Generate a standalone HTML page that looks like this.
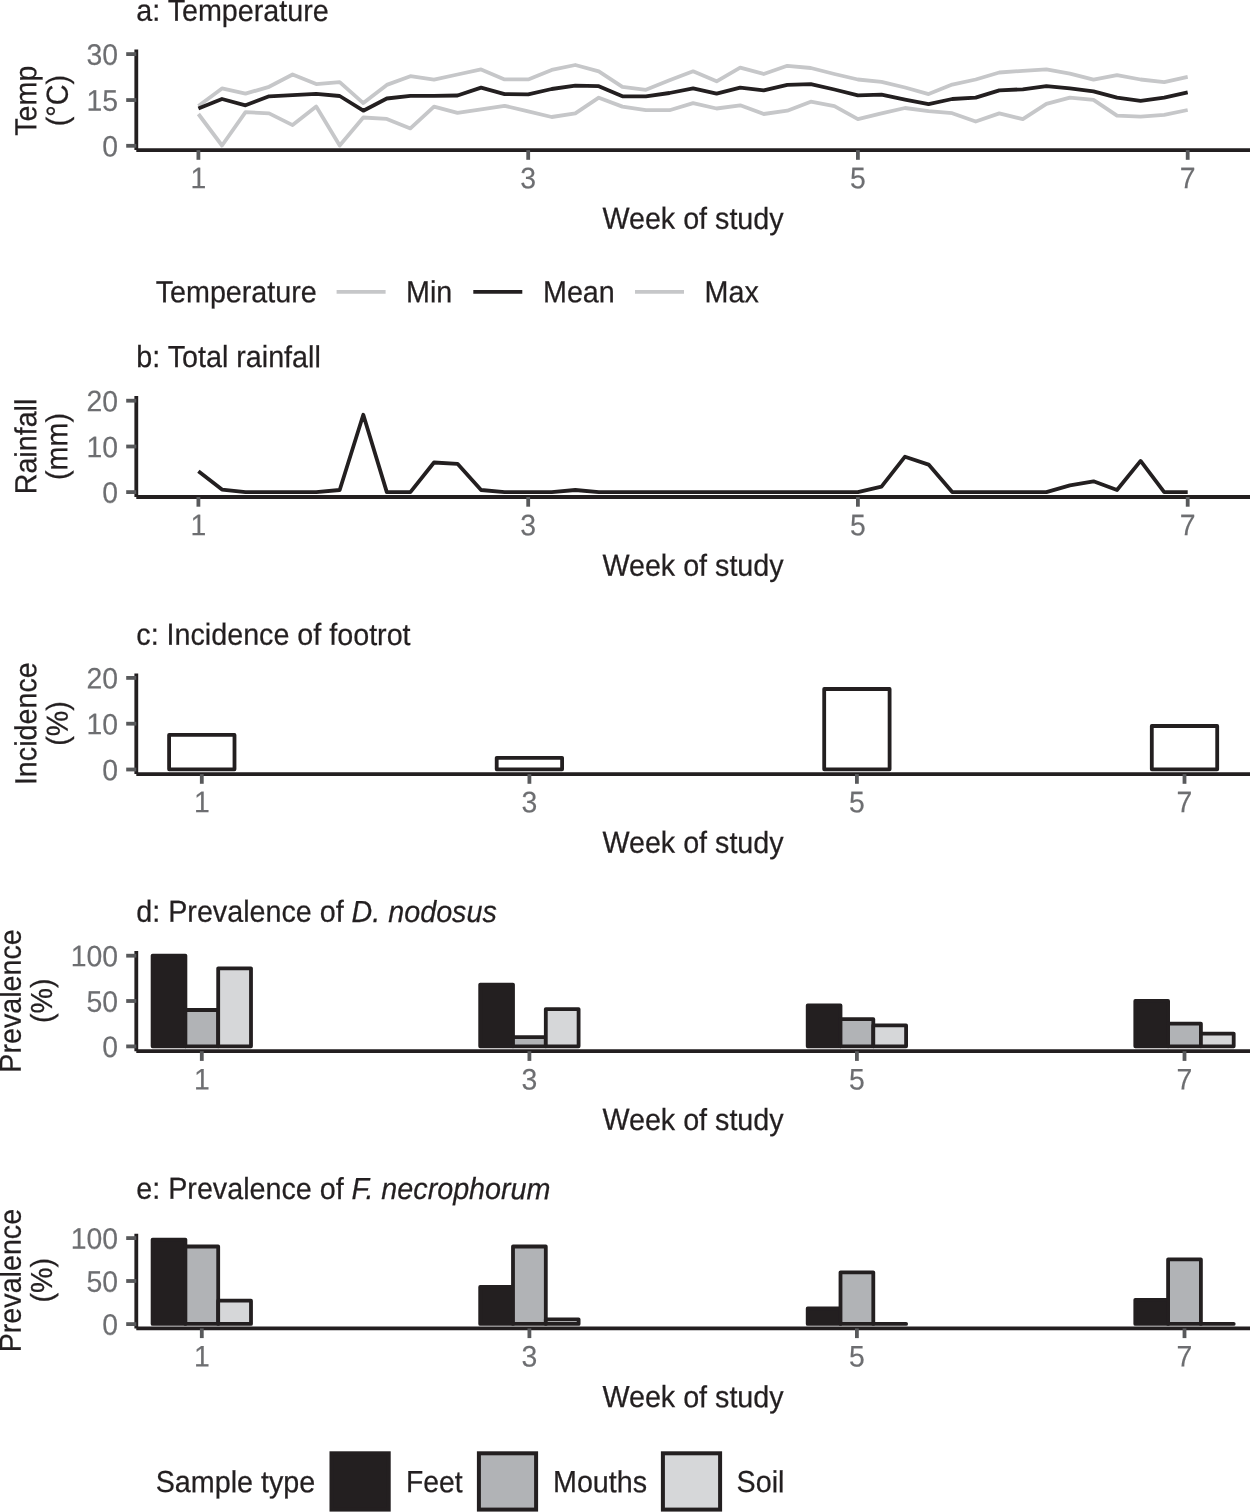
<!DOCTYPE html>
<html lang="en"><head><meta charset="utf-8"><title>Figure</title>
<style>
html,body{margin:0;padding:0;background:#fff;}
body{width:1250px;height:1512px;overflow:hidden;}
svg{display:block;font-family:"Liberation Sans", sans-serif;will-change:transform;text-rendering:geometricPrecision;}
</style></head><body>
<svg width="1250" height="1512" viewBox="0 0 1250 1512">
<rect width="1250" height="1512" fill="#fff"/>
<text transform="translate(136.3,20.8) rotate(0.05) scale(0.944,1)" font-size="30.4" fill="#231f20" stroke="#231f20" stroke-width="0.25" text-anchor="start" >a: Temperature</text>
<polyline points="198.4,114.0 222.0,145.5 245.5,112.1 269.1,113.4 292.6,125.1 316.2,106.6 339.7,145.5 363.3,117.5 386.8,118.9 410.4,128.4 434.0,106.6 457.5,112.9 481.1,109.4 504.6,105.8 528.2,111.3 551.7,117.0 575.3,113.4 598.8,97.7 622.4,106.6 645.9,110.2 669.5,110.2 693.1,103.1 716.6,108.5 740.2,105.3 763.7,114.0 787.3,110.7 810.8,101.7 834.4,106.1 857.9,119.2 881.5,113.4 905.0,108.0 928.6,111.1 952.2,113.2 975.7,121.5 999.3,113.4 1022.8,119.2 1046.4,103.9 1069.9,97.6 1093.5,99.9 1117.0,115.7 1140.6,116.6 1164.2,114.9 1187.7,110.0" fill="none" stroke="#c6c7c9" stroke-width="3.8" stroke-linejoin="round" stroke-linecap="butt"/>
<polyline points="198.4,106.1 222.0,88.4 245.5,93.6 269.1,86.8 292.6,74.5 316.2,84.1 339.7,82.2 363.3,103.1 386.8,84.9 410.4,76.2 434.0,79.7 457.5,74.5 481.1,69.4 504.6,79.4 528.2,79.4 551.7,69.9 575.3,65.0 598.8,71.3 622.4,86.8 645.9,89.8 669.5,80.3 693.1,71.3 716.6,81.3 740.2,67.7 763.7,74.0 787.3,65.8 810.8,68.0 834.4,74.0 857.9,79.5 881.5,81.8 905.0,87.5 928.6,94.1 952.2,84.6 975.7,79.5 999.3,72.5 1022.8,70.8 1046.4,69.4 1069.9,73.7 1093.5,79.7 1117.0,75.1 1140.6,79.5 1164.2,82.1 1187.7,76.9" fill="none" stroke="#c6c7c9" stroke-width="3.8" stroke-linejoin="round" stroke-linecap="butt"/>
<polyline points="198.4,108.5 222.0,99.0 245.5,105.3 269.1,96.3 292.6,95.2 316.2,93.9 339.7,96.0 363.3,110.7 386.8,98.5 410.4,95.8 434.0,95.8 457.5,95.5 481.1,87.6 504.6,94.1 528.2,94.4 551.7,89.0 575.3,85.7 598.8,86.2 622.4,96.3 645.9,96.3 669.5,93.0 693.1,88.4 716.6,93.6 740.2,87.6 763.7,90.3 787.3,84.9 810.8,84.1 834.4,89.5 857.9,95.3 881.5,94.7 905.0,99.6 928.6,104.2 952.2,99.0 975.7,97.6 999.3,90.4 1022.8,89.3 1046.4,86.1 1069.9,88.4 1093.5,91.3 1117.0,97.6 1140.6,100.8 1164.2,97.6 1187.7,92.4" fill="none" stroke="#231f20" stroke-width="3.8" stroke-linejoin="round" stroke-linecap="butt"/>
<path d="M136.3 49.4 V150.1 M136.3 150.1 H1250" fill="none" stroke="#231f20" stroke-width="3.8" stroke-linecap="butt"/>
<line x1="198.4" x2="198.4" y1="150.1" y2="159.79999999999998" stroke="#58595b" stroke-width="3.8"/>
<text transform="translate(198.4,188.3) rotate(0.05) scale(0.955,1)" font-size="29.7" fill="#6d6e71" stroke="#6d6e71" stroke-width="0.18" text-anchor="middle" >1</text>
<line x1="528.2" x2="528.2" y1="150.1" y2="159.79999999999998" stroke="#58595b" stroke-width="3.8"/>
<text transform="translate(528.2,188.3) rotate(0.05) scale(0.955,1)" font-size="29.7" fill="#6d6e71" stroke="#6d6e71" stroke-width="0.18" text-anchor="middle" >3</text>
<line x1="857.9" x2="857.9" y1="150.1" y2="159.79999999999998" stroke="#58595b" stroke-width="3.8"/>
<text transform="translate(857.9,188.3) rotate(0.05) scale(0.955,1)" font-size="29.7" fill="#6d6e71" stroke="#6d6e71" stroke-width="0.18" text-anchor="middle" >5</text>
<line x1="1187.7" x2="1187.7" y1="150.1" y2="159.79999999999998" stroke="#58595b" stroke-width="3.8"/>
<text transform="translate(1187.7,188.3) rotate(0.05) scale(0.955,1)" font-size="29.7" fill="#6d6e71" stroke="#6d6e71" stroke-width="0.18" text-anchor="middle" >7</text>
<line x1="126.2" x2="136.3" y1="54.1" y2="54.1" stroke="#58595b" stroke-width="3.8"/>
<text transform="translate(118.10000000000001,64.8) rotate(0.05) scale(0.955,1)" font-size="29.7" fill="#6d6e71" stroke="#6d6e71" stroke-width="0.18" text-anchor="end" >30</text>
<line x1="126.2" x2="136.3" y1="100.05" y2="100.05" stroke="#58595b" stroke-width="3.8"/>
<text transform="translate(118.10000000000001,110.75) rotate(0.05) scale(0.955,1)" font-size="29.7" fill="#6d6e71" stroke="#6d6e71" stroke-width="0.18" text-anchor="end" >15</text>
<line x1="126.2" x2="136.3" y1="145.8" y2="145.8" stroke="#58595b" stroke-width="3.8"/>
<text transform="translate(118.10000000000001,156.5) rotate(0.05) scale(0.955,1)" font-size="29.7" fill="#6d6e71" stroke="#6d6e71" stroke-width="0.18" text-anchor="end" >0</text>
<text transform="translate(693,228.85) rotate(0.05) scale(0.944,1)" font-size="30.4" fill="#231f20" stroke="#231f20" stroke-width="0.25" text-anchor="middle" >Week of study</text>
<text transform="translate(36.3,100.7) rotate(-90.05) scale(0.944,1)" font-size="30.4" fill="#231f20" stroke="#231f20" stroke-width="0.25" text-anchor="middle">Temp</text>
<text transform="translate(67.7,100.7) rotate(-90.05) scale(0.944,1)" font-size="30.4" fill="#231f20" stroke="#231f20" stroke-width="0.25" text-anchor="middle">(°C)</text>
<text transform="translate(155.7,302.2) rotate(0.05) scale(0.944,1)" font-size="30.4" fill="#231f20" stroke="#231f20" stroke-width="0.25" text-anchor="start" >Temperature</text>
<line x1="336.6" x2="385.6" y1="291.8" y2="291.8" stroke="#c6c7c9" stroke-width="3.8"/>
<line x1="473.3" x2="522.3" y1="291.8" y2="291.8" stroke="#231f20" stroke-width="3.8"/>
<line x1="635" x2="684" y1="291.8" y2="291.8" stroke="#c6c7c9" stroke-width="3.8"/>
<text transform="translate(406,302.2) rotate(0.05) scale(0.944,1)" font-size="30.4" fill="#231f20" stroke="#231f20" stroke-width="0.25" text-anchor="start" >Min</text>
<text transform="translate(543,302.2) rotate(0.05) scale(0.944,1)" font-size="30.4" fill="#231f20" stroke="#231f20" stroke-width="0.25" text-anchor="start" >Mean</text>
<text transform="translate(704.6,302.2) rotate(0.05) scale(0.944,1)" font-size="30.4" fill="#231f20" stroke="#231f20" stroke-width="0.25" text-anchor="start" >Max</text>
<text transform="translate(136.3,367) rotate(0.05) scale(0.944,1)" font-size="30.4" fill="#231f20" stroke="#231f20" stroke-width="0.25" text-anchor="start" >b: Total rainfall</text>
<polyline points="198.4,471.3 222.0,489.6 245.5,492.1 269.1,492.1 292.6,492.1 316.2,492.1 339.7,490.0 363.3,414.7 386.8,492.1 410.4,492.1 434.0,462.5 457.5,463.8 481.1,490.0 504.6,492.1 528.2,492.1 551.7,492.1 575.3,490.0 598.8,492.1 622.4,492.1 645.9,492.1 669.5,492.1 693.1,492.1 716.6,492.1 740.2,492.1 763.7,492.1 787.3,492.1 810.8,492.1 834.4,492.1 857.9,492.1 881.5,486.7 905.0,456.7 928.6,464.6 952.2,492.1 975.7,492.1 999.3,492.1 1022.8,492.1 1046.4,492.1 1069.9,485.4 1093.5,481.3 1117.0,490.0 1140.6,460.9 1164.2,492.1 1187.7,492.1" fill="none" stroke="#231f20" stroke-width="3.8" stroke-linejoin="round" stroke-linecap="butt"/>
<path d="M136.3 395.9 V497.0 M136.3 497.0 H1250" fill="none" stroke="#231f20" stroke-width="3.8" stroke-linecap="butt"/>
<line x1="198.4" x2="198.4" y1="497.0" y2="506.7" stroke="#58595b" stroke-width="3.8"/>
<text transform="translate(198.4,535.2) rotate(0.05) scale(0.955,1)" font-size="29.7" fill="#6d6e71" stroke="#6d6e71" stroke-width="0.18" text-anchor="middle" >1</text>
<line x1="528.2" x2="528.2" y1="497.0" y2="506.7" stroke="#58595b" stroke-width="3.8"/>
<text transform="translate(528.2,535.2) rotate(0.05) scale(0.955,1)" font-size="29.7" fill="#6d6e71" stroke="#6d6e71" stroke-width="0.18" text-anchor="middle" >3</text>
<line x1="857.9" x2="857.9" y1="497.0" y2="506.7" stroke="#58595b" stroke-width="3.8"/>
<text transform="translate(857.9,535.2) rotate(0.05) scale(0.955,1)" font-size="29.7" fill="#6d6e71" stroke="#6d6e71" stroke-width="0.18" text-anchor="middle" >5</text>
<line x1="1187.7" x2="1187.7" y1="497.0" y2="506.7" stroke="#58595b" stroke-width="3.8"/>
<text transform="translate(1187.7,535.2) rotate(0.05) scale(0.955,1)" font-size="29.7" fill="#6d6e71" stroke="#6d6e71" stroke-width="0.18" text-anchor="middle" >7</text>
<line x1="126.2" x2="136.3" y1="400.7" y2="400.7" stroke="#58595b" stroke-width="3.8"/>
<text transform="translate(118.10000000000001,411.4) rotate(0.05) scale(0.955,1)" font-size="29.7" fill="#6d6e71" stroke="#6d6e71" stroke-width="0.18" text-anchor="end" >20</text>
<line x1="126.2" x2="136.3" y1="446.5" y2="446.5" stroke="#58595b" stroke-width="3.8"/>
<text transform="translate(118.10000000000001,457.2) rotate(0.05) scale(0.955,1)" font-size="29.7" fill="#6d6e71" stroke="#6d6e71" stroke-width="0.18" text-anchor="end" >10</text>
<line x1="126.2" x2="136.3" y1="492.1" y2="492.1" stroke="#58595b" stroke-width="3.8"/>
<text transform="translate(118.10000000000001,502.8) rotate(0.05) scale(0.955,1)" font-size="29.7" fill="#6d6e71" stroke="#6d6e71" stroke-width="0.18" text-anchor="end" >0</text>
<text transform="translate(693,575.75) rotate(0.05) scale(0.944,1)" font-size="30.4" fill="#231f20" stroke="#231f20" stroke-width="0.25" text-anchor="middle" >Week of study</text>
<text transform="translate(36.3,446.5) rotate(-90.05) scale(0.944,1)" font-size="30.4" fill="#231f20" stroke="#231f20" stroke-width="0.25" text-anchor="middle">Rainfall</text>
<text transform="translate(67.2,446.5) rotate(-90.05) scale(0.944,1)" font-size="30.4" fill="#231f20" stroke="#231f20" stroke-width="0.25" text-anchor="middle">(mm)</text>
<text transform="translate(136.3,644.7) rotate(0.05) scale(0.944,1)" font-size="30.4" fill="#231f20" stroke="#231f20" stroke-width="0.25" text-anchor="start" >c: Incidence of footrot</text>
<path d="M136.3 673.4 V774.1 M136.3 774.1 H1250" fill="none" stroke="#231f20" stroke-width="3.8" stroke-linecap="butt"/>
<line x1="201.8" x2="201.8" y1="774.1" y2="783.8000000000001" stroke="#58595b" stroke-width="3.8"/>
<text transform="translate(201.8,812.3000000000001) rotate(0.05) scale(0.955,1)" font-size="29.7" fill="#6d6e71" stroke="#6d6e71" stroke-width="0.18" text-anchor="middle" >1</text>
<line x1="529.4" x2="529.4" y1="774.1" y2="783.8000000000001" stroke="#58595b" stroke-width="3.8"/>
<text transform="translate(529.4,812.3000000000001) rotate(0.05) scale(0.955,1)" font-size="29.7" fill="#6d6e71" stroke="#6d6e71" stroke-width="0.18" text-anchor="middle" >3</text>
<line x1="856.9" x2="856.9" y1="774.1" y2="783.8000000000001" stroke="#58595b" stroke-width="3.8"/>
<text transform="translate(856.9,812.3000000000001) rotate(0.05) scale(0.955,1)" font-size="29.7" fill="#6d6e71" stroke="#6d6e71" stroke-width="0.18" text-anchor="middle" >5</text>
<line x1="1184.5" x2="1184.5" y1="774.1" y2="783.8000000000001" stroke="#58595b" stroke-width="3.8"/>
<text transform="translate(1184.5,812.3000000000001) rotate(0.05) scale(0.955,1)" font-size="29.7" fill="#6d6e71" stroke="#6d6e71" stroke-width="0.18" text-anchor="middle" >7</text>
<line x1="126.2" x2="136.3" y1="677.9" y2="677.9" stroke="#58595b" stroke-width="3.8"/>
<text transform="translate(118.10000000000001,688.6) rotate(0.05) scale(0.955,1)" font-size="29.7" fill="#6d6e71" stroke="#6d6e71" stroke-width="0.18" text-anchor="end" >20</text>
<line x1="126.2" x2="136.3" y1="723.7" y2="723.7" stroke="#58595b" stroke-width="3.8"/>
<text transform="translate(118.10000000000001,734.4000000000001) rotate(0.05) scale(0.955,1)" font-size="29.7" fill="#6d6e71" stroke="#6d6e71" stroke-width="0.18" text-anchor="end" >10</text>
<line x1="126.2" x2="136.3" y1="769.5" y2="769.5" stroke="#58595b" stroke-width="3.8"/>
<text transform="translate(118.10000000000001,780.2) rotate(0.05) scale(0.955,1)" font-size="29.7" fill="#6d6e71" stroke="#6d6e71" stroke-width="0.18" text-anchor="end" >0</text>
<text transform="translate(693,852.85) rotate(0.05) scale(0.944,1)" font-size="30.4" fill="#231f20" stroke="#231f20" stroke-width="0.25" text-anchor="middle" >Week of study</text>
<text transform="translate(36.3,723.7) rotate(-90.05) scale(0.944,1)" font-size="30.4" fill="#231f20" stroke="#231f20" stroke-width="0.25" text-anchor="middle">Incidence</text>
<text transform="translate(67.7,723.4) rotate(-90.05) scale(0.944,1)" font-size="30.4" fill="#231f20" stroke="#231f20" stroke-width="0.25" text-anchor="middle">(%)</text>
<rect x="169.1" y="734.9" width="65.4" height="34.4" fill="#fff" stroke="#231f20" stroke-width="3.8" stroke-linejoin="round"/>
<rect x="496.7" y="757.8" width="65.4" height="11.5" fill="#fff" stroke="#231f20" stroke-width="3.8" stroke-linejoin="round"/>
<rect x="824.2" y="689.0" width="65.4" height="80.3" fill="#fff" stroke="#231f20" stroke-width="3.8" stroke-linejoin="round"/>
<rect x="1151.8" y="726.0" width="65.4" height="43.3" fill="#fff" stroke="#231f20" stroke-width="3.8" stroke-linejoin="round"/>
<text transform="translate(136.3,921.7) rotate(0.05) scale(0.944,1)" font-size="30.4" fill="#231f20" stroke="#231f20" stroke-width="0.25" text-anchor="start" >d: Prevalence of <tspan font-style="italic">D. nodosus</tspan></text>
<path d="M136.3 951 V1051.2 M136.3 1051.2 H1250" fill="none" stroke="#231f20" stroke-width="3.8" stroke-linecap="butt"/>
<line x1="201.8" x2="201.8" y1="1051.2" y2="1060.9" stroke="#58595b" stroke-width="3.8"/>
<text transform="translate(201.8,1089.4) rotate(0.05) scale(0.955,1)" font-size="29.7" fill="#6d6e71" stroke="#6d6e71" stroke-width="0.18" text-anchor="middle" >1</text>
<line x1="529.4" x2="529.4" y1="1051.2" y2="1060.9" stroke="#58595b" stroke-width="3.8"/>
<text transform="translate(529.4,1089.4) rotate(0.05) scale(0.955,1)" font-size="29.7" fill="#6d6e71" stroke="#6d6e71" stroke-width="0.18" text-anchor="middle" >3</text>
<line x1="856.9" x2="856.9" y1="1051.2" y2="1060.9" stroke="#58595b" stroke-width="3.8"/>
<text transform="translate(856.9,1089.4) rotate(0.05) scale(0.955,1)" font-size="29.7" fill="#6d6e71" stroke="#6d6e71" stroke-width="0.18" text-anchor="middle" >5</text>
<line x1="1184.5" x2="1184.5" y1="1051.2" y2="1060.9" stroke="#58595b" stroke-width="3.8"/>
<text transform="translate(1184.5,1089.4) rotate(0.05) scale(0.955,1)" font-size="29.7" fill="#6d6e71" stroke="#6d6e71" stroke-width="0.18" text-anchor="middle" >7</text>
<line x1="126.2" x2="136.3" y1="955.7" y2="955.7" stroke="#58595b" stroke-width="3.8"/>
<text transform="translate(118.10000000000001,966.4000000000001) rotate(0.05) scale(0.955,1)" font-size="29.7" fill="#6d6e71" stroke="#6d6e71" stroke-width="0.18" text-anchor="end" >100</text>
<line x1="126.2" x2="136.3" y1="1001" y2="1001" stroke="#58595b" stroke-width="3.8"/>
<text transform="translate(118.10000000000001,1011.7) rotate(0.05) scale(0.955,1)" font-size="29.7" fill="#6d6e71" stroke="#6d6e71" stroke-width="0.18" text-anchor="end" >50</text>
<line x1="126.2" x2="136.3" y1="1046.4" y2="1046.4" stroke="#58595b" stroke-width="3.8"/>
<text transform="translate(118.10000000000001,1057.1000000000001) rotate(0.05) scale(0.955,1)" font-size="29.7" fill="#6d6e71" stroke="#6d6e71" stroke-width="0.18" text-anchor="end" >0</text>
<text transform="translate(693,1129.95) rotate(0.05) scale(0.944,1)" font-size="30.4" fill="#231f20" stroke="#231f20" stroke-width="0.25" text-anchor="middle" >Week of study</text>
<text transform="translate(20.8,1001) rotate(-90.05) scale(0.944,1)" font-size="30.4" fill="#231f20" stroke="#231f20" stroke-width="0.25" text-anchor="middle">Prevalence</text>
<text transform="translate(52,1000.7) rotate(-90.05) scale(0.944,1)" font-size="30.4" fill="#231f20" stroke="#231f20" stroke-width="0.25" text-anchor="middle">(%)</text>
<rect x="152.6" y="955.6" width="32.8" height="90.7" fill="#231f20" stroke="#231f20" stroke-width="3.8" stroke-linejoin="round"/>
<rect x="185.4" y="1010.0" width="32.8" height="36.3" fill="#b1b3b6" stroke="#231f20" stroke-width="3.8" stroke-linejoin="round"/>
<rect x="218.2" y="968.3" width="32.8" height="78.0" fill="#d6d7d9" stroke="#231f20" stroke-width="3.8" stroke-linejoin="round"/>
<rect x="480.2" y="984.6" width="32.8" height="61.7" fill="#231f20" stroke="#231f20" stroke-width="3.8" stroke-linejoin="round"/>
<rect x="513.0" y="1037.2" width="32.8" height="9.1" fill="#b1b3b6" stroke="#231f20" stroke-width="3.8" stroke-linejoin="round"/>
<rect x="545.8" y="1009.1" width="32.8" height="37.2" fill="#d6d7d9" stroke="#231f20" stroke-width="3.8" stroke-linejoin="round"/>
<rect x="807.7" y="1005.5" width="32.8" height="40.8" fill="#231f20" stroke="#231f20" stroke-width="3.8" stroke-linejoin="round"/>
<rect x="840.5" y="1019.1" width="32.8" height="27.2" fill="#b1b3b6" stroke="#231f20" stroke-width="3.8" stroke-linejoin="round"/>
<rect x="873.3" y="1025.4" width="32.8" height="20.9" fill="#d6d7d9" stroke="#231f20" stroke-width="3.8" stroke-linejoin="round"/>
<rect x="1135.3" y="1000.9" width="32.8" height="45.4" fill="#231f20" stroke="#231f20" stroke-width="3.8" stroke-linejoin="round"/>
<rect x="1168.1" y="1023.6" width="32.8" height="22.7" fill="#b1b3b6" stroke="#231f20" stroke-width="3.8" stroke-linejoin="round"/>
<rect x="1200.9" y="1033.6" width="32.8" height="12.7" fill="#d6d7d9" stroke="#231f20" stroke-width="3.8" stroke-linejoin="round"/>
<text transform="translate(136.3,1198.8) rotate(0.05) scale(0.944,1)" font-size="30.4" fill="#231f20" stroke="#231f20" stroke-width="0.25" text-anchor="start" >e: Prevalence of <tspan font-style="italic">F. necrophorum</tspan></text>
<path d="M136.3 1233.8 V1328.4 M136.3 1328.4 H1250" fill="none" stroke="#231f20" stroke-width="3.8" stroke-linecap="butt"/>
<line x1="201.8" x2="201.8" y1="1328.4" y2="1338.1000000000001" stroke="#58595b" stroke-width="3.8"/>
<text transform="translate(201.8,1366.6000000000001) rotate(0.05) scale(0.955,1)" font-size="29.7" fill="#6d6e71" stroke="#6d6e71" stroke-width="0.18" text-anchor="middle" >1</text>
<line x1="529.4" x2="529.4" y1="1328.4" y2="1338.1000000000001" stroke="#58595b" stroke-width="3.8"/>
<text transform="translate(529.4,1366.6000000000001) rotate(0.05) scale(0.955,1)" font-size="29.7" fill="#6d6e71" stroke="#6d6e71" stroke-width="0.18" text-anchor="middle" >3</text>
<line x1="856.9" x2="856.9" y1="1328.4" y2="1338.1000000000001" stroke="#58595b" stroke-width="3.8"/>
<text transform="translate(856.9,1366.6000000000001) rotate(0.05) scale(0.955,1)" font-size="29.7" fill="#6d6e71" stroke="#6d6e71" stroke-width="0.18" text-anchor="middle" >5</text>
<line x1="1184.5" x2="1184.5" y1="1328.4" y2="1338.1000000000001" stroke="#58595b" stroke-width="3.8"/>
<text transform="translate(1184.5,1366.6000000000001) rotate(0.05) scale(0.955,1)" font-size="29.7" fill="#6d6e71" stroke="#6d6e71" stroke-width="0.18" text-anchor="middle" >7</text>
<line x1="126.2" x2="136.3" y1="1238.1" y2="1238.1" stroke="#58595b" stroke-width="3.8"/>
<text transform="translate(118.10000000000001,1248.8) rotate(0.05) scale(0.955,1)" font-size="29.7" fill="#6d6e71" stroke="#6d6e71" stroke-width="0.18" text-anchor="end" >100</text>
<line x1="126.2" x2="136.3" y1="1281" y2="1281" stroke="#58595b" stroke-width="3.8"/>
<text transform="translate(118.10000000000001,1291.7) rotate(0.05) scale(0.955,1)" font-size="29.7" fill="#6d6e71" stroke="#6d6e71" stroke-width="0.18" text-anchor="end" >50</text>
<line x1="126.2" x2="136.3" y1="1324.1" y2="1324.1" stroke="#58595b" stroke-width="3.8"/>
<text transform="translate(118.10000000000001,1334.8) rotate(0.05) scale(0.955,1)" font-size="29.7" fill="#6d6e71" stroke="#6d6e71" stroke-width="0.18" text-anchor="end" >0</text>
<text transform="translate(693,1407.15) rotate(0.05) scale(0.944,1)" font-size="30.4" fill="#231f20" stroke="#231f20" stroke-width="0.25" text-anchor="middle" >Week of study</text>
<text transform="translate(20.8,1280.6) rotate(-90.05) scale(0.944,1)" font-size="30.4" fill="#231f20" stroke="#231f20" stroke-width="0.25" text-anchor="middle">Prevalence</text>
<text transform="translate(52,1280.3) rotate(-90.05) scale(0.944,1)" font-size="30.4" fill="#231f20" stroke="#231f20" stroke-width="0.25" text-anchor="middle">(%)</text>
<rect x="152.6" y="1239.6" width="32.8" height="84.3" fill="#231f20" stroke="#231f20" stroke-width="3.8" stroke-linejoin="round"/>
<rect x="185.4" y="1246.5" width="32.8" height="77.4" fill="#b1b3b6" stroke="#231f20" stroke-width="3.8" stroke-linejoin="round"/>
<rect x="218.2" y="1300.7" width="32.8" height="23.2" fill="#d6d7d9" stroke="#231f20" stroke-width="3.8" stroke-linejoin="round"/>
<rect x="480.2" y="1286.9" width="32.8" height="37.0" fill="#231f20" stroke="#231f20" stroke-width="3.8" stroke-linejoin="round"/>
<rect x="513.0" y="1246.5" width="32.8" height="77.4" fill="#b1b3b6" stroke="#231f20" stroke-width="3.8" stroke-linejoin="round"/>
<rect x="545.8" y="1319.3" width="32.8" height="4.6" fill="#d6d7d9" stroke="#231f20" stroke-width="3.8" stroke-linejoin="round"/>
<rect x="807.7" y="1308.4" width="32.8" height="15.5" fill="#231f20" stroke="#231f20" stroke-width="3.8" stroke-linejoin="round"/>
<rect x="840.5" y="1272.3" width="32.8" height="51.6" fill="#b1b3b6" stroke="#231f20" stroke-width="3.8" stroke-linejoin="round"/>
<rect x="873.3" y="1323.8" width="32.8" height="0.1" fill="#d6d7d9" stroke="#231f20" stroke-width="3.8" stroke-linejoin="round"/>
<rect x="1135.3" y="1299.8" width="32.8" height="24.1" fill="#231f20" stroke="#231f20" stroke-width="3.8" stroke-linejoin="round"/>
<rect x="1168.1" y="1259.4" width="32.8" height="64.5" fill="#b1b3b6" stroke="#231f20" stroke-width="3.8" stroke-linejoin="round"/>
<rect x="1200.9" y="1323.8" width="32.8" height="0.1" fill="#d6d7d9" stroke="#231f20" stroke-width="3.8" stroke-linejoin="round"/>
<text transform="translate(155.7,1492.1) rotate(0.05) scale(0.944,1)" font-size="30.4" fill="#231f20" stroke="#231f20" stroke-width="0.25" text-anchor="start" >Sample type</text>
<rect x="331.5" y="1453.3" width="57.2" height="56.3" fill="#231f20" stroke="#231f20" stroke-width="4" stroke-linejoin="miter"/>
<rect x="478.9" y="1453.3" width="57.2" height="56.3" fill="#b1b3b6" stroke="#231f20" stroke-width="4" stroke-linejoin="miter"/>
<rect x="662.9" y="1453.3" width="57.2" height="56.3" fill="#d6d7d9" stroke="#231f20" stroke-width="4" stroke-linejoin="miter"/>
<text transform="translate(406,1492.1) rotate(0.05) scale(0.93,1)" font-size="30.4" fill="#231f20" stroke="#231f20" stroke-width="0.25" text-anchor="start" >Feet</text>
<text transform="translate(553,1492.1) rotate(0.05) scale(0.944,1)" font-size="30.4" fill="#231f20" stroke="#231f20" stroke-width="0.25" text-anchor="start" >Mouths</text>
<text transform="translate(736.6,1492.1) rotate(0.05) scale(0.944,1)" font-size="30.4" fill="#231f20" stroke="#231f20" stroke-width="0.25" text-anchor="start" >Soil</text>
</svg>
</body></html>
